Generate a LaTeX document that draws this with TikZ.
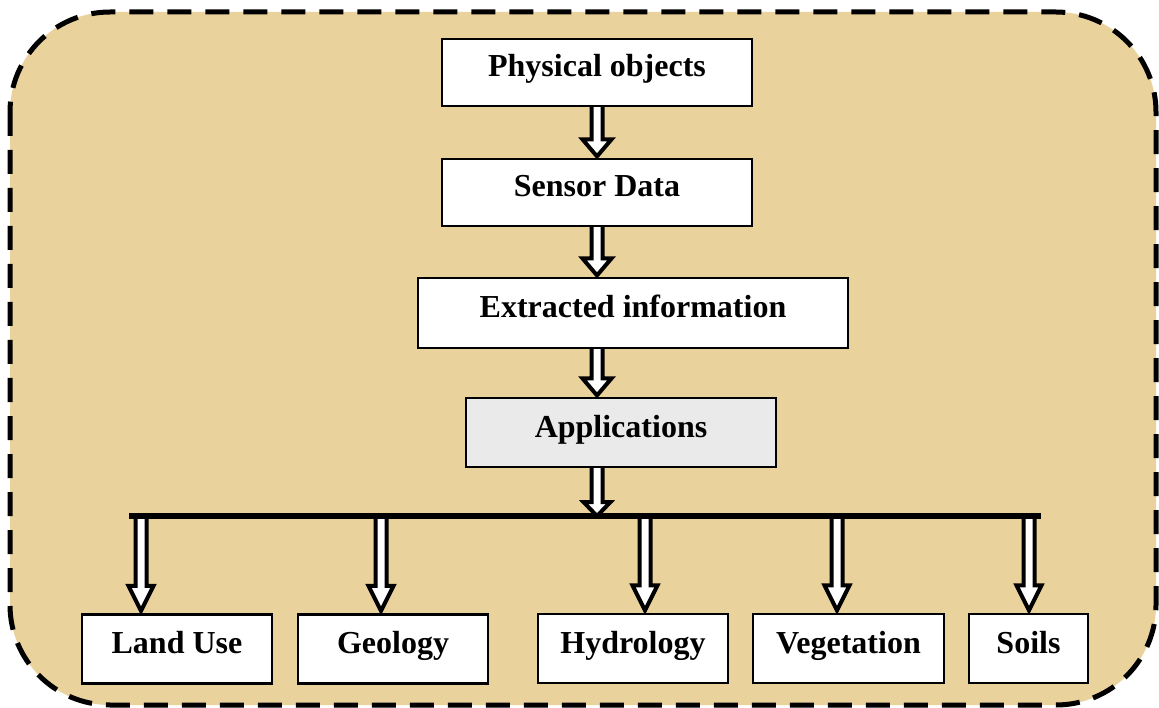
\documentclass[tikz,border=0pt]{standalone}
\usepackage{fontspec}
\setmainfont{Liberation Serif}
\usetikzlibrary{calc}

\definecolor{parchment}{RGB}{234,210,157}
\definecolor{appgray}{RGB}{234,234,234}

\pgfdeclarelayer{paper}
\pgfdeclarelayer{links}
\pgfsetlayers{paper,links,main}

\tikzset{
  box/.style={draw=black, line width=2.2pt, fill=white, inner sep=0pt,
    font=\fontsize{32}{38}\selectfont\bfseries,
    text height=23pt, text depth=14pt, anchor=center},
  hollow/.style={draw=black, fill=white, line width=4pt,
    line join=miter, miter limit=10},
  bus/.style={draw=black, line width=5.5pt},
  frame/.style={draw=black, line width=5pt, dash pattern=on 24pt off 14pt,
    fill=parchment, rounded corners=100pt},
}

% Hollow block arrow pointing down.
% #1 head length, #2 head half-width, #3 tail point, #4 tip point
\newcommand{\hollowdown}[4]{%
  \path (#3) coordinate (ht) (#4) coordinate (hp);
  \draw[hollow] ($(ht)+(-5.5,0)$) -- ($(hp)+(-5.5,-#1)$)
    -- ($(hp)+(-#2,-#1)$) -- (hp) -- ($(hp)+(#2,-#1)$)
    -- ($(hp)+(5.5,-#1)$) -- ($(ht)+(5.5,0)$) -- cycle;%
}

\begin{document}
\begin{tikzpicture}[x=1pt, y=-1pt]
  \useasboundingbox (0,0) rectangle (1159,708);

  % processing chain
  \node[box, minimum width=310pt, minimum height=67pt] (phys) at (597,72.5) {Physical objects};
  \node[box, minimum width=310pt, minimum height=67pt] (sensor) at (597,192.5) {Sensor Data};
  \node[box, minimum width=430pt, minimum height=70pt] (extr) at (633,313) {Extracted information};
  \node[box, fill=appgray, minimum width=310pt, minimum height=69pt] (appl) at (621,432.5) {Applications};

  % application fields
  \node[box, minimum width=190pt, minimum height=69pt] (landuse) at (177,649) {Land Use};
  \node[box, minimum width=190pt, minimum height=69pt] (geology) at (393,649) {Geology};
  \node[box, minimum width=190pt, minimum height=69pt] (hydro) at (633,648.5) {Hydrology};
  \node[box, minimum width=191pt, minimum height=69pt] (veg) at (848.5,648.5) {Vegetation};
  \node[box, minimum width=119pt, minimum height=69pt] (soils) at (1028.5,648.5) {Soils};

  % distribution bar and its drop points
  \coordinate (busL) at (129,516);
  \coordinate (busR) at (1041,516);
  \coordinate (b1) at (141,516);
  \coordinate (b2) at (381,516);
  \coordinate (b3) at (645,516);
  \coordinate (b4) at (837,516);
  \coordinate (b5) at (1029,516);
  \draw[bus] (busL) -- (busR);

  \begin{pgfonlayer}{paper}
    \fill[white] (0,0) rectangle (1159,708);
    \draw[frame] (10,12) rectangle (1156,705);
  \end{pgfonlayer}

  \begin{pgfonlayer}{links}
    \hollowdown{17}{14.5}{$(phys.south)+(0,-4)$}{$(sensor.north)+(0,-1.5)$}
    \hollowdown{17}{14.5}{$(sensor.south)+(0,-4)$}{$(extr.north -| sensor.south)+(0,-1.5)$}
    \hollowdown{17}{14.5}{$(extr.south -| phys.south)+(0,-4)$}{$(appl.north -| phys.south)+(0,-1.5)$}
    \hollowdown{14}{13.5}{$(appl.south -| phys.south)+(0,-4)$}{$(busL -| phys.south)+(0,0)$}
    \hollowdown{25}{12.5}{b1}{$(b1 |- landuse.north)+(0,-2.5)$}
    \hollowdown{25}{12.5}{b2}{$(b2 |- geology.north)+(0,-2.5)$}
    \hollowdown{25}{12.5}{b3}{$(b3 |- hydro.north)+(0,-2.5)$}
    \hollowdown{25}{12.5}{b4}{$(b4 |- veg.north)+(0,-2.5)$}
    \hollowdown{25}{12.5}{b5}{$(b5 |- soils.north)+(0,-2.5)$}
  \end{pgfonlayer}
\end{tikzpicture}
\end{document}
